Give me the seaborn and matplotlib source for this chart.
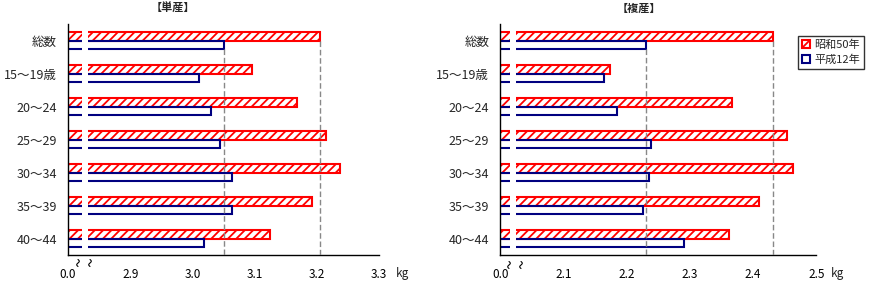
import numpy as np
import pandas as pd
import matplotlib
matplotlib.use("Agg")
import matplotlib.pyplot as plt
import seaborn as sns
from matplotlib.patches import Patch
from matplotlib.lines import Line2D

categories = ['総数', '15～19歳', '20～24', '25～29', '30～34', '35～39', '40～44']
years = ['昭和50年', '平成12年']
single_s50 = [3.205, 3.096, 3.168, 3.215, 3.238, 3.193, 3.125]
single_h12 = [3.050, 3.011, 3.030, 3.044, 3.063, 3.063, 3.019]
multi_s50 = [2.431, 2.174, 2.366, 2.454, 2.463, 2.410, 2.362]
multi_h12 = [2.231, 2.164, 2.185, 2.238, 2.236, 2.225, 2.290]
left_ticks = [2.8, 2.9, 3.0, 3.1, 3.2, 3.3]
left_ticklabels = ['0.0', '2.9', '3.0', '3.1', '3.2', '3.3']
right_ticks = [2.0, 2.1, 2.2, 2.3, 2.4, 2.5]
right_ticklabels = ['0.0', '2.1', '2.2', '2.3', '2.4', '2.5']
titles = ['【単産】', '【複産】']
unit = 'kg'

sns.set_style("white")
FAM = ['Noto Sans CJK JP', 'DejaVu Sans']
plt.rcParams['font.family'] = FAM
plt.rcParams['hatch.color'] = '#FF0000'
plt.rcParams['hatch.linewidth'] = 1.3

RED = '#FF0000'
NAVY = '#000080'
W, H = 870, 283

fig = plt.figure(figsize=(W / 100, H / 100), dpi=100)

def make_df(a, b):
    return pd.DataFrame({
        'cat': categories * 2,
        'val': list(a) + list(b),
        'year': [years[0]] * len(categories) + [years[1]] * len(categories),
    })

def squiggle(xc, yc):
    # small wavy break mark, in figure pixels
    t = np.linspace(-1, 1, 12)
    xs = xc + 1.3 * np.sin(t * np.pi)
    ys = yc - 3.5 * t
    fig.add_artist(Line2D(xs / W, 1 - ys / H, color='black', lw=0.8,
                          transform=fig.transFigure))

panels = [
    dict(df=make_df(single_s50, single_h12), x0=68, x1=379, ticks=left_ticks,
         labels=left_ticklabels, gap=(82, 88), tilde=(78, 90), tilde_y=263,
         title_x=173, kg_x=403),
    dict(df=make_df(multi_s50, multi_h12), x0=500.3, x1=816.3, ticks=right_ticks,
         labels=right_ticklabels, gap=(510, 516), tilde=(509, 521), tilde_y=265,
         title_x=639, kg_x=838),
]

top, bot = 24, 255
for i, p in enumerate(panels):
    ax = fig.add_axes([p['x0'] / W, 1 - bot / H, (p['x1'] - p['x0']) / W, (bot - top) / H])
    sns.barplot(data=p['df'], y='cat', x='val', hue='year', hue_order=years,
                order=categories, orient='h', width=0.54, ax=ax, legend=False,
                palette=[RED, NAVY], saturation=1)
    lo, hi = p['ticks'][0], p['ticks'][-1]
    for bar in ax.containers[0]:
        bar.set_facecolor('white')
        bar.set_edgecolor(RED)
        bar.set_hatch('////')
        bar.set_linewidth(1.5)
    for bar in ax.containers[1]:
        bar.set_facecolor('none')
        bar.set_edgecolor(NAVY)
        bar.set_linewidth(1.5)
    ax.set_xlim(lo, hi)
    ax.set_ylim(len(categories) - 0.5, -0.5)
    ybot = ax.get_ylim()[0]
    for cont in ax.containers:
        b = cont[0]
        ax.vlines(b.get_width(), b.get_y() + b.get_height(), ybot,
                  colors='#888888', linestyles=(0, (4, 2)), linewidth=1, zorder=3)
    gx0 = lo + (p['gap'][0] - p['x0']) / (p['x1'] - p['x0']) * (hi - lo)
    gx1 = lo + (p['gap'][1] - p['x0']) / (p['x1'] - p['x0']) * (hi - lo)
    ax.axvspan(gx0, gx1, ymin=0.01, ymax=1, color='white', zorder=2.4, lw=0)
    ax.set_xticks(p['ticks'])
    ax.set_xticklabels(p['labels'])
    ax.tick_params(axis='x', direction='in', length=3, width=1, pad=9,
                   labelsize=8.5, colors='black')
    ax.tick_params(axis='y', length=0, pad=8, labelsize=9)
    ax.set_xlabel('')
    ax.set_ylabel('')
    for s in ['top', 'right']:
        ax.spines[s].set_visible(False)
    for s in ['left', 'bottom']:
        ax.spines[s].set_color('black')
        ax.spines[s].set_linewidth(1)
    ax.grid(False)
    for tx in p['tilde']:
        squiggle(tx, p['tilde_y'])
    fig.text(p['kg_x'] / W, 1 - 274 / H, unit, fontsize=8.5, ha='center', va='center')
    fig.text(p['title_x'] / W, 1 - 8 / H, titles[i], fontsize=8, fontweight='bold',
             ha='center', va='center')

handles = [Patch(facecolor='white', edgecolor=RED, hatch='//', linewidth=1.5),
           Patch(facecolor='white', edgecolor=NAVY, linewidth=1.5)]
leg = fig.legend(handles, years, loc='upper left', bbox_to_anchor=(798 / W, 1 - 36 / H),
                 frameon=True, fancybox=False, edgecolor='black', fontsize=8,
                 handlelength=0.7, handleheight=0.7, handletextpad=0.4,
                 borderpad=0.35, labelspacing=0.35, borderaxespad=0)
leg.get_frame().set_linewidth(1)

fig.savefig('out.png', dpi=100)
